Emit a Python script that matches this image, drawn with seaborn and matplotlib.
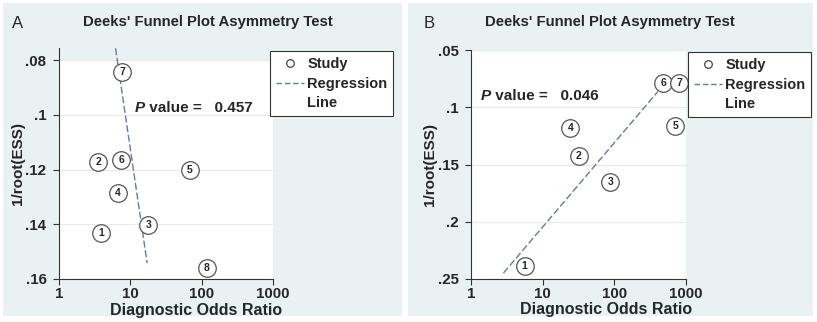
import matplotlib
matplotlib.use("Agg")
import matplotlib.pyplot as plt
from matplotlib.patches import Rectangle
from matplotlib.lines import Line2D
from matplotlib.ticker import FixedLocator, FixedFormatter, NullLocator
import seaborn as sns
import pandas as pd

# Panel A data
study_a = [1, 2, 3, 4, 5, 6, 7, 8]
dor_a = [3.85, 3.53, 17.9, 6.61, 68.2, 7.43, 7.67, 118.5]
inv_ess_a = [0.1432, 0.1171, 0.1403, 0.1286, 0.1201, 0.1165, 0.0843, 0.1560]
reg_dor_a = [6.2, 17.2]
reg_y_a = [0.0757, 0.1542]
p_a = "0.457"
yticks_a = [0.08, 0.10, 0.12, 0.14, 0.16]
ylabels_a = [".08", ".1", ".12", ".14", ".16"]

# Panel B data
study_b = [1, 2, 3, 4, 5, 6, 7]
dor_b = [5.6, 32.0, 87.9, 24.4, 708.0, 481.0, 807.0]
inv_ess_b = [0.239, 0.1422, 0.1657, 0.1177, 0.116, 0.0791, 0.0791]
reg_dor_b = [2.84, 405.0]
reg_y_b = [0.2448, 0.0863]
p_b = "0.046"
yticks_b = [0.05, 0.10, 0.15, 0.20, 0.25]
ylabels_b = [".05", ".1", ".15", ".2", ".25"]

xticks = [1, 10, 100, 1000]
xlabels = ["1", "10", "100", "1000"]

sns.set_style("white")
plt.rcParams["font.family"] = ["Liberation Sans", "DejaVu Sans"]
plt.rcParams["font.weight"] = "bold"
plt.rcParams["axes.labelweight"] = "bold"

BG = "#eaf1f3"
REG = "#627d9a"
W, H = 817, 322

fig = plt.figure(figsize=(W / 100, H / 100), dpi=100)
fig.patch.set_facecolor("white")


def px(x, y):
    return x / W, 1 - y / H


# panel backgrounds
for x0, x1 in [(3, 402), (408, 813)]:
    fig.add_artist(Rectangle(px(x0, 316), (x1 - x0) / W, 313 / H,
                             transform=fig.transFigure, facecolor=BG,
                             edgecolor="none", zorder=0))


def panel(rect, letter, lx, tx, study, dor, yv, rdor, ry, yticks, ylabels,
          ylim, white_from, p, ppos, leg_xy, xlab_x):
    l, t, r, b = rect
    ax = fig.add_axes([l / W, 1 - b / H, (r - l) / W, (b - t) / H])
    ax.set_facecolor(BG)
    ax.axhspan(white_from, ylim[0], color="white", zorder=0, lw=0)
    ax.set_xscale("log")
    ax.set_xlim(1, 1000)
    ax.set_ylim(*ylim)

    df = pd.DataFrame({"dor": dor, "y": yv, "study": study})
    sns.lineplot(x=rdor, y=ry, ax=ax, sort=False, color=REG, lw=1.0,
                 linestyle=(0, (5, 2)), zorder=2, clip_on=False)
    sns.scatterplot(data=df, x="dor", y="y", ax=ax, s=160, marker="o",
                    facecolor="white", edgecolor="#555555", linewidth=0.9,
                    zorder=3, clip_on=False)
    for _, row in df.iterrows():
        ax.text(row["dor"], row["y"], str(int(row["study"])), ha="center",
                va="center", fontsize=7.5, zorder=4)

    ax.xaxis.set_major_locator(FixedLocator(xticks))
    ax.xaxis.set_major_formatter(FixedFormatter(xlabels))
    ax.xaxis.set_minor_locator(NullLocator())
    ax.yaxis.set_major_locator(FixedLocator(yticks))
    ax.yaxis.set_major_formatter(FixedFormatter(ylabels))
    ax.tick_params(axis="both", direction="out", length=4, width=0.8,
                   color="#333333", labelsize=10.8)
    ax.tick_params(axis="x", bottom=True, pad=2)
    ax.tick_params(axis="y", left=True, pad=5)
    for s in ["top", "right"]:
        ax.spines[s].set_visible(False)
    for s in ["left", "bottom"]:
        ax.spines[s].set_color("#333333")
        ax.spines[s].set_linewidth(0.8)
    for yt in yticks:
        if yt != ylim[0] and yt >= white_from:
            ax.axhline(yt, color="#e9e9e9", lw=0.8, zorder=1)

    ax.set_xlabel("Diagnostic Odds Ratio", fontsize=11.5, fontweight="bold")
    ax.xaxis.set_label_coords(xlab_x, -0.135)
    ax.xaxis.label.set_va("center")
    ax.set_ylabel("1/root(ESS)", fontsize=11, fontweight="bold")
    ax.yaxis.set_label_coords(-0.158, 0.5)

    fig.text(*px(lx, 23), letter, fontsize=12, fontweight="normal",
             ha="left", va="center")
    fig.text(*px(tx, 22), "Deeks' Funnel Plot Asymmetry Test", fontsize=10.7,
             ha="center", va="center")

    pt = ax.text(ppos[0], ppos[1], "P", transform=ax.transAxes,
                 fontsize=11, style="italic", ha="left", va="center")
    ax.annotate(" value =   " + p, xy=(1, 0), xycoords=pt, fontsize=11,
                ha="left", va="bottom")

    handles = [Line2D([], [], marker="o", ls="none", mfc="white",
                      mec="#444444", ms=5.5, mew=0.9),
               Line2D([], [], ls=(0, (4, 2)), color=REG, lw=1.0),
               Line2D([], [], ls="none")]
    leg = ax.legend(handles, ["Study", "Regression", "Line"], loc="upper left",
                    bbox_to_anchor=px(*leg_xy), bbox_transform=fig.transFigure,
                    borderaxespad=0, fontsize=10.5, handlelength=1.9,
                    handletextpad=0.25, borderpad=0.4, labelspacing=0.4,
                    fancybox=False, frameon=True)
    leg.get_frame().set_edgecolor("#333333")
    leg.get_frame().set_linewidth(0.8)
    leg.get_frame().set_facecolor("white")
    leg.get_frame().set_alpha(1)
    return ax


panel((59, 48, 273, 279), "A", 12, 208, study_a, dor_a, inv_ess_a,
      reg_dor_a, reg_y_a, yticks_a, ylabels_a, (0.16, 0.0756), 0.08,
      p_a, (0.355, 0.74), (270, 51), 0.64)
panel((471, 50, 686, 279), "B", 424, 610, study_b, dor_b, inv_ess_b,
      reg_dor_b, reg_y_b, yticks_b, ylabels_b, (0.25, 0.05), 0.05,
      p_b, (0.047, 0.80), (688, 52), 0.628)

fig.savefig("out.png", dpi=100)
